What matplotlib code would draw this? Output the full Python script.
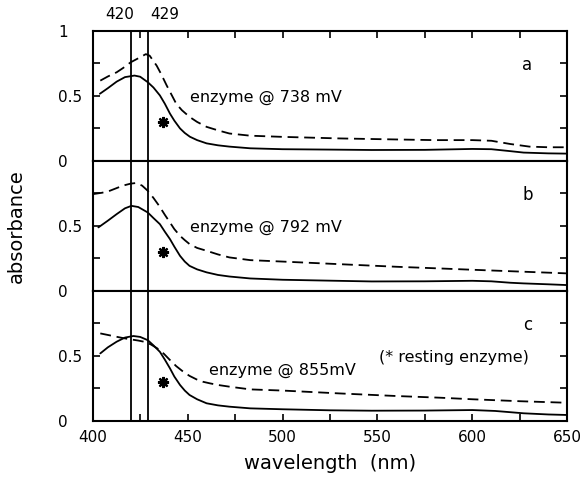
import matplotlib
matplotlib.use("Agg")
import matplotlib.pyplot as plt
from matplotlib.ticker import MultipleLocator, FixedLocator

plt.rcParams['font.family'] = ['DejaVu Sans']

# ---- spectra: (wavelength nm, absorbance) ----
a_solid_nm = [403.8, 408, 412.6, 417, 420, 422, 425, 429, 432, 435.4, 438, 440.7, 443, 446,
              448.5, 451.2, 455, 460, 466, 472, 483, 500, 525, 547, 575, 600, 610, 620, 627, 640, 650]
a_solid = [0.517, 0.56, 0.61, 0.645, 0.652, 0.657, 0.648, 0.606, 0.565, 0.504, 0.44, 0.364, 0.31,
           0.25, 0.215, 0.186, 0.16, 0.135, 0.12, 0.11, 0.097, 0.09, 0.087, 0.084, 0.085, 0.092,
           0.09, 0.075, 0.064, 0.058, 0.056]
a_dash_nm = [404, 408, 412.6, 416, 420, 424, 428, 430, 433.7, 436, 439, 441.5, 444, 447, 451, 455,
             460, 466, 472, 483, 500, 530, 560, 580, 600, 610, 620, 630, 640, 650]
a_dash = [0.618, 0.65, 0.682, 0.715, 0.759, 0.79, 0.822, 0.81, 0.733, 0.67, 0.58, 0.51, 0.44, 0.39,
          0.339, 0.3, 0.262, 0.235, 0.211, 0.194, 0.185, 0.173, 0.165, 0.16, 0.16, 0.155, 0.13,
          0.11, 0.105, 0.105]

b_solid_nm = [403, 408, 412.6, 417, 420.4, 424, 429, 432, 435.4, 438, 440.7, 443, 446, 448.5, 451,
              455, 460, 466, 472, 483, 500, 525, 547, 575, 600, 610, 620, 627, 640, 650]
b_solid = [0.488, 0.54, 0.59, 0.635, 0.654, 0.645, 0.603, 0.56, 0.513, 0.455, 0.398, 0.34, 0.269,
           0.225, 0.192, 0.165, 0.142, 0.122, 0.11, 0.095, 0.085, 0.078, 0.072, 0.073, 0.077,
           0.073, 0.062, 0.057, 0.05, 0.044]
b_dash_nm = [400, 405, 409, 412.5, 416, 420, 423, 426, 429, 432, 435, 438, 440.7, 443, 446, 448.5,
             451, 455, 460, 466, 472, 483, 500, 530, 560, 583, 600, 625, 650]
b_dash = [0.744, 0.755, 0.77, 0.79, 0.81, 0.825, 0.83, 0.81, 0.77, 0.715, 0.654, 0.585, 0.526,
          0.475, 0.423, 0.39, 0.36, 0.33, 0.308, 0.28, 0.257, 0.236, 0.225, 0.205, 0.185, 0.172,
          0.162, 0.148, 0.134]

c_solid_nm = [404, 408, 412.6, 417, 421.4, 425, 429, 432, 435.4, 438, 440.7, 443, 446, 448.5, 451,
              455, 460, 466, 472, 483, 500, 525, 547, 575, 600, 612, 627, 640, 650]
c_solid = [0.518, 0.565, 0.608, 0.64, 0.652, 0.645, 0.62, 0.58, 0.53, 0.47, 0.403, 0.34, 0.275,
           0.232, 0.198, 0.165, 0.134, 0.118, 0.108, 0.095, 0.088, 0.08, 0.077, 0.078, 0.082,
           0.075, 0.057, 0.048, 0.044]
c_dash_nm = [404, 408, 412.6, 416, 420, 424, 427, 430.5, 434, 437.5, 440.7, 444, 447.7, 451,
             454.7, 458, 461.6, 466, 472, 483, 500, 530, 560, 583, 600, 625, 650]
c_dash = [0.672, 0.66, 0.646, 0.636, 0.626, 0.617, 0.608, 0.588, 0.557, 0.515, 0.467, 0.42,
          0.377, 0.345, 0.318, 0.3, 0.288, 0.275, 0.262, 0.241, 0.232, 0.21, 0.19, 0.177, 0.165,
          0.15, 0.138]

panel_letters = ["a", "b", "c"]
panel_labels = ["enzyme @ 738 mV", "enzyme @ 792 mV", "enzyme @ 855mV"]
resting_star = (437, 0.30)          # resting enzyme marker position
marker_lines = [420, 429]           # Soret band positions
xticks_major = [400, 450, 500, 550, 600, 650]

panels = [
    (a_solid_nm, a_solid, a_dash_nm, a_dash),
    (b_solid_nm, b_solid, b_dash_nm, b_dash),
    (c_solid_nm, c_solid, c_dash_nm, c_dash),
]

W, H = 585, 478
fig = plt.figure(figsize=(W / 100, H / 100), dpi=100)

left, right = 92.7 / W, 567.3 / W
top_px, bot_px = 31.0, 420.7
ph = (bot_px - top_px) / 3 / H

axes = []
for i in range(3):
    bottom = 1 - (top_px + (i + 1) * (bot_px - top_px) / 3) / H
    ax = fig.add_axes([left, bottom, right - left, ph])
    axes.append(ax)

for i, (ax, (snm, sv, dnm, dv)) in enumerate(zip(axes, panels)):
    ax.plot(snm, sv, color="black", lw=1.3, solid_capstyle="round")
    ax.plot(dnm, dv, color="black", lw=1.3, dashes=(6, 3.2))
    for xl in marker_lines:
        ax.axvline(xl, color="black", lw=1.3)
    ax.plot([resting_star[0]], [resting_star[1]], marker=(8, 2, 0), ms=8, mew=1.6,
            color="black", ls="none")
    ax.set_xlim(400, 650)
    ax.set_ylim(0, 1)
    for sp in ax.spines.values():
        sp.set_linewidth(1.5)

    ax.yaxis.set_major_locator(FixedLocator([0, 0.25, 0.5, 0.75, 1.0]))
    if i == 0:
        ylabels = ["0", "", "0.5", "", "1"]
    else:
        ylabels = ["0", "", "0.5", "", ""]
    ax.set_yticklabels(ylabels)
    ax.tick_params(axis="y", which="both", direction="in", left=True, right=True,
                   length=5, width=1.2, labelsize=11, pad=25)
    for t in ax.get_yticklabels():
        t.set_horizontalalignment("left")

    ax.xaxis.set_major_locator(MultipleLocator(25))
    ax.tick_params(axis="x", which="both", direction="in", length=5, width=1.2,
                   top=(i == 0), bottom=(i == 2), labelbottom=(i == 2), labelsize=11, pad=7)
    if i == 2:
        ax.set_xticks(range(400, 651, 25))
        ax.set_xticklabels([str(v) if v in xticks_major else "" for v in range(400, 651, 25)])

    ax.text(629, 0.735, panel_letters[i], fontsize=12, ha="center", va="center")

axes[0].text(451, 0.49, panel_labels[0], fontsize=11.5, ha="left", va="center")
axes[1].text(451, 0.49, panel_labels[1], fontsize=11.5, ha="left", va="center")
axes[2].text(461.5, 0.39, panel_labels[2], fontsize=11.5, ha="left", va="center")
axes[2].text(551, 0.49, "(* resting enzyme)", fontsize=11.5, ha="left", va="center")

# wavelength markers labelled above the top panel
axes[0].text(414.4, 1.07, "420", fontsize=11, ha="center", va="bottom",
             transform=axes[0].get_xaxis_transform())
axes[0].text(438.0, 1.07, "429", fontsize=11, ha="center", va="bottom",
             transform=axes[0].get_xaxis_transform())

axes[2].set_xlabel("wavelength  (nm)", fontsize=14, labelpad=6)
fig.text(16.5 / W, 1 - 226 / H, "absorbance", rotation=90, fontsize=14,
         ha="center", va="center")

fig.savefig("out.png", dpi=100)
